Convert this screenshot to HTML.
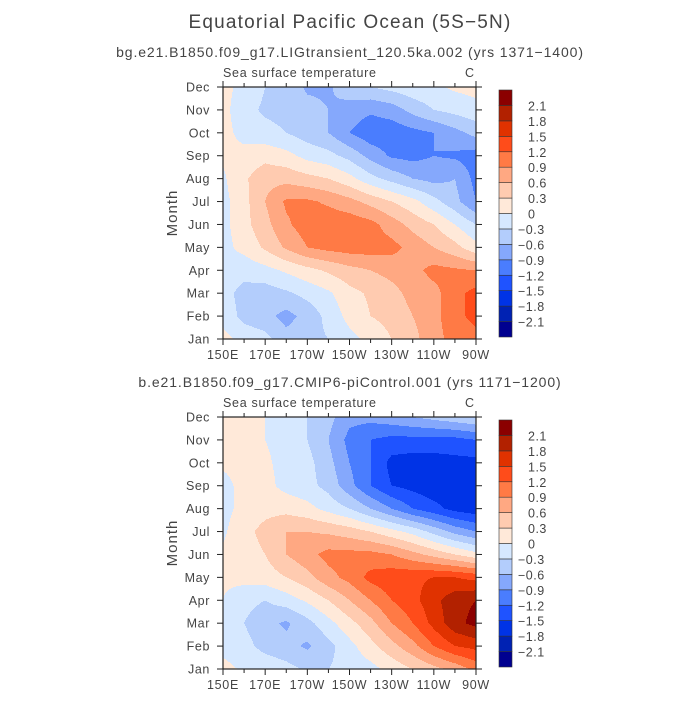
<!DOCTYPE html>
<html><head><meta charset="utf-8"><style>
body{margin:0;background:#fff;width:700px;height:700px;overflow:hidden}
text{font-family:"Liberation Sans",sans-serif;fill:#444}
</style></head><body>
<svg id="svg" width="700" height="700" xmlns="http://www.w3.org/2000/svg">
<text x="350" y="28" text-anchor="middle" font-size="19" letter-spacing="1.2">Equatorial Pacific Ocean (5S−5N)</text>
<text x="350" y="57" text-anchor="middle" font-size="14" letter-spacing="0.9">bg.e21.B1850.f09_g17.LIGtransient_120.5ka.002 (yrs 1371−1400)</text>
<text x="350" y="387" text-anchor="middle" font-size="14" letter-spacing="0.9">b.e21.B1850.f09_g17.CMIP6-piControl.001 (yrs 1171−1200)</text>
<g id="p1"></g>
<g id="p2"></g>
</svg>
<script>
const months=["Jan","Feb","Mar","Apr","May","Jun","Jul","Aug","Sep","Oct","Nov","Dec"];
const lons=[150,160,170,180,190,200,210,220,230,240,250,260,270];
const xTickLabels=["150E","170E","170W","150W","130W","110W","90W"];
const levels=[-2.1,-1.8,-1.5,-1.2,-0.9,-0.6,-0.3,0,0.3,0.6,0.9,1.2,1.5,1.8,2.1];
const levelColors=["#000090","#0022b3","#0033e6","#1f53ff","#4a7dfe","#85a8fc","#b3cdfc","#d6e8ff","#ffe9d9","#ffcbb0","#ffa882","#ff7a45","#ff4c1a","#e03200","#b22100","#8b0000"];
const sstTop=[
[0.1,-0.1,-0.2,-0.5,-0.4,-0.3,-0.1,0.1,0.3,0.5,0.8,1.0,1.1],
[-0.1,-0.4,-0.5,-0.7,-0.5,-0.2,0.1,0.3,0.4,0.6,0.8,1.1,1.3],
[-0.2,-0.4,-0.45,-0.35,-0.2,-0.05,0.2,0.35,0.5,0.7,0.8,1.1,1.3],
[-0.1,-0.2,-0.1,0.05,0.2,0.35,0.5,0.6,0.7,0.8,1.0,0.95,0.9],
[-0.1,0.1,0.35,0.65,0.9,1.0,1.05,1.05,1.0,0.8,0.6,0.4,0.1],
[-0.1,0.2,0.5,0.85,1.05,1.1,1.1,1.0,0.75,0.5,0.3,0.0,-0.3],
[-0.1,0.2,0.6,0.95,0.95,0.85,0.7,0.5,0.3,0.1,-0.2,-0.5,-0.9],
[-0.05,0.25,0.5,0.5,0.4,0.3,0.1,-0.2,-0.4,-0.6,-0.7,-0.6,-1.0],
[0.05,0.1,0.2,0.1,-0.1,-0.2,-0.4,-0.7,-0.95,-1.0,-0.9,-0.95,-1.05],
[0.1,-0.1,-0.2,-0.3,-0.45,-0.6,-0.9,-1.1,-1.1,-1.0,-0.9,-0.7,-0.5],
[0.1,-0.2,-0.35,-0.4,-0.5,-0.6,-0.75,-0.85,-0.75,-0.5,-0.3,-0.2,-0.1],
[0.1,-0.1,-0.3,-0.4,-0.65,-0.65,-0.4,-0.3,-0.2,-0.1,-0.05,0.05,0.1]];
const sstBottom=[
[0.1,-0.05,-0.1,-0.2,-0.35,-0.3,-0.2,-0.1,0.1,0.3,0.5,0.7,1.0],
[-0.1,-0.2,-0.4,-0.5,-0.65,-0.4,-0.1,0.2,0.5,0.8,1.2,1.5,1.6],
[-0.05,-0.3,-0.5,-0.65,-0.4,-0.1,0.2,0.5,0.9,1.2,1.6,2.0,2.2],
[0.0,-0.2,-0.3,-0.15,0.05,0.3,0.6,0.9,1.2,1.4,1.7,2.0,2.1],
[0.05,0.1,0.15,0.3,0.5,0.8,1.0,1.3,1.4,1.45,1.5,1.5,1.4],
[0.05,0.15,0.3,0.6,0.8,1.0,1.0,1.0,0.9,0.7,0.5,0.3,0.1],
[-0.05,0.2,0.4,0.6,0.6,0.55,0.45,0.3,0.1,-0.1,-0.4,-0.7,-0.9],
[-0.1,0.1,0.2,0.2,0.1,-0.1,-0.3,-0.6,-0.9,-1.2,-1.4,-1.6,-1.7],
[-0.1,0.1,0.1,-0.1,-0.2,-0.4,-0.8,-1.2,-1.5,-1.6,-1.7,-1.7,-1.7],
[0.05,0.1,0.05,-0.1,-0.2,-0.5,-0.9,-1.2,-1.6,-1.65,-1.65,-1.6,-1.6],
[0.1,0.1,0.0,-0.1,-0.3,-0.6,-1.0,-1.2,-1.3,-1.3,-1.3,-1.3,-1.2],
[0.1,0.1,0.0,-0.1,-0.3,-0.5,-0.8,-0.8,-0.7,-0.6,-0.5,-0.4,-0.3]];

const NS="http://www.w3.org/2000/svg";
function mk(tag,attrs,parent){const e=document.createElementNS(NS,tag);for(const k in attrs)e.setAttribute(k,attrs[k]);parent.appendChild(e);return e;}
const L=223,R=476,W=R-L;
function xScale(lon){return L+(lon-150)/120*W;}
function colorIdx(v){let i=0;while(i<levels.length&&v>levels[i])i++;return i;}
function sample(data,fx,fy){
  const i0=Math.min(Math.floor(fx),lons.length-2),j0=Math.min(Math.floor(fy),months.length-2);
  const tx=fx-i0,ty=fy-j0;
  const a=data[j0][i0],b=data[j0][i0+1],c=data[j0+1][i0],d=data[j0+1][i0+1];
  return a*(1-tx)*(1-ty)+b*tx*(1-ty)+c*(1-tx)*ty+d*tx*ty;
}
function panel(g,data,T,B){
  const H=B-T;
  const yScale=m=>B-m/11*H;
  const cells=mk('g',{},g);
  
  
  for(let py=T;py<B;py++){
    const mIdx=(B-(py+0.5))/H*11;
    let runStart=L,runC=-1;
    for(let px=L;px<=R;px++){
      let c=-1;
      if(px<R){const fx=(px+0.5-L)/W*12;c=colorIdx(sample(data,fx,mIdx));}
      if(c!==runC){
        if(runC>=0){const r=mk('rect',{x:runStart,y:py,width:px-runStart,height:1,fill:levelColors[runC]},cells);
          
          }
        runStart=px;runC=c;
      }
    }
  }
  const fr=mk('rect',{x:L,y:T,width:W,height:H,fill:'none',stroke:'#222','stroke-width':1.2},g);
  
  
  months.forEach((m,i)=>{
    const y=yScale(i);
    mk('line',{x1:L-6,x2:L,y1:y,y2:y,stroke:'#222'},g);
    mk('line',{x1:R,x2:R+6,y1:y,y2:y,stroke:'#222'},g);
    const t=mk('text',{x:L-13,y:y+4.5,'text-anchor':'end','font-size':12.5,'letter-spacing':0.6},g);t.textContent=m;
    
    
  });
  for(let lon=150;lon<=270;lon+=10){
    const x=xScale(lon),maj=(lon-150)%20===0,len=maj?6:4;
    mk('line',{x1:x,x2:x,y1:T-len,y2:T,stroke:'#222'},g);
    mk('line',{x1:x,x2:x,y1:B,y2:B+len,stroke:'#222'},g);
  }
  xTickLabels.forEach((lab,i)=>{
    const t=mk('text',{x:xScale(150+i*20),y:B+20,'text-anchor':'middle','font-size':12.5,'letter-spacing':0.7},g);t.textContent=lab;
    
    
  });
  const yl=mk('text',{x:0,y:0,'text-anchor':'middle','font-size':15,'letter-spacing':1,transform:`translate(177,${(T+B)/2}) rotate(-90)`},g);yl.textContent='Month';
  
  
  const lt=mk('text',{x:L,y:T-10,'font-size':12.5,'letter-spacing':0.7},g);lt.textContent='Sea surface temperature';
  
  
  const un=mk('text',{x:R-2,y:T-10,'text-anchor':'end','font-size':12.5},g);un.textContent='C';
  
  
  const cb=mk('g',{},g);
  
  
  const cT=T+3,cB=B-2,n=levelColors.length,h=(cB-cT)/n;
  for(let k=0;k<n;k++){
    const r=mk('rect',{x:499,y:cT+(n-1-k)*h,width:13,height:h,fill:levelColors[k],stroke:'#333','stroke-width':0.6},cb);
    
    
  }
  levels.forEach((lv,k)=>{
    const y=cT+(n-1-k)*h;
    const t=mk('text',{x:lv<0?518:528,y:y+5,'font-size':12.5,'letter-spacing':0.5},cb);
    t.textContent=(lv<0?'−':'')+(lv===0?'0':Math.abs(lv).toFixed(1));
    
    
  });
}
panel(document.getElementById('p1'),sstTop,87,339);
panel(document.getElementById('p2'),sstBottom,417,669);
</script>
</body></html>
